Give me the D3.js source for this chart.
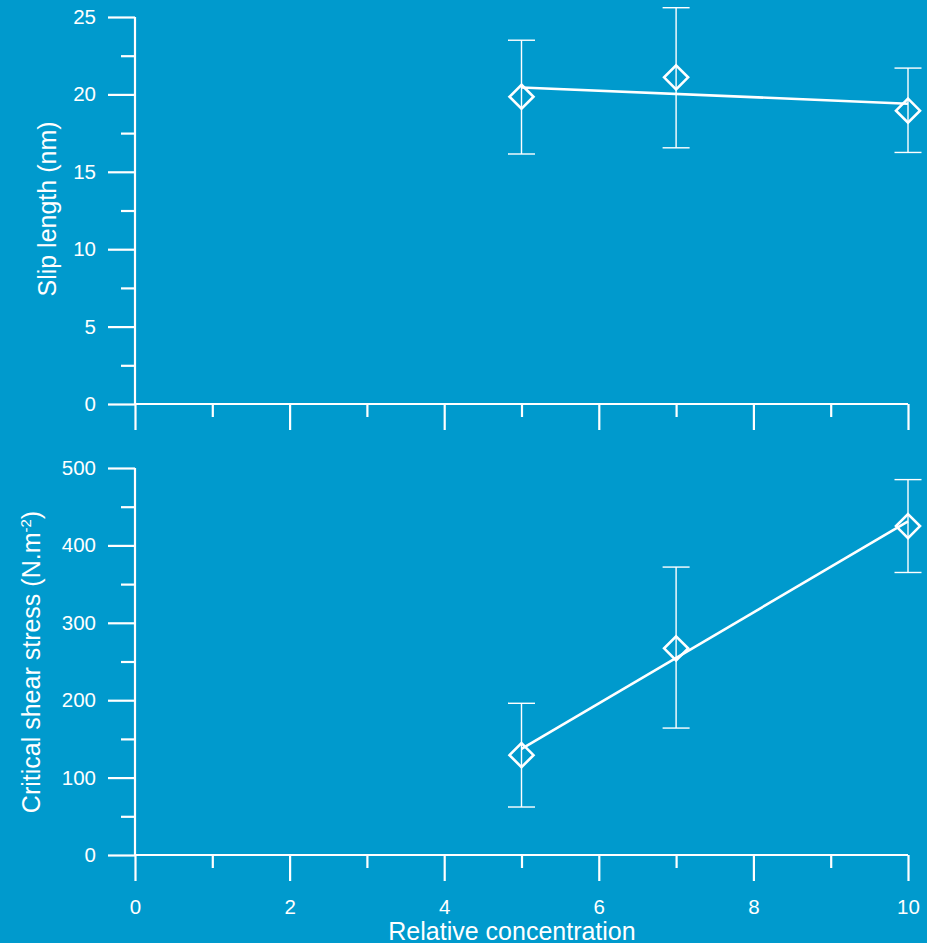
<!DOCTYPE html>
<html>
<head>
<meta charset="utf-8">
<script src="https://cdn.jsdelivr.net/npm/d3@7"></script>
<style>
  body { margin: 0; background: #009acd; }
  svg { display: block; font-family: "Liberation Sans", Arial, sans-serif; }
  .axis line, .axis path { stroke: #fff; }
</style>
</head>
<body>
<svg class="chart"></svg>
<script>
// data
var conc = [5, 7, 10];
var slipMean = [19.85, 21.1, 18.95];
var slipLow = [16.15, 16.55, 16.25];
var slipHigh = [23.5, 25.6, 21.7];
var slipFitX = [5, 10];
var slipFitY = [20.45, 19.4];

var shearMean = [129, 267, 425];
var shearLow = [62, 164, 365];
var shearHigh = [196, 372, 485];
var shearFitX = [5, 10];
var shearFitY = [137, 431];

var xMajor = [0, 2, 4, 6, 8, 10],
    xMinor = [1, 3, 5, 7, 9];
var slipMajor = [0, 5, 10, 15, 20, 25],
    slipMinor = [2.5, 7.5, 12.5, 17.5, 22.5];
var shearMajor = [0, 100, 200, 300, 400, 500],
    shearMinor = [50, 150, 250, 350, 450];

var width = 927, height = 943;
var chart = d3.select('.chart')
    .attr("width", width)
    .attr("height", height);

chart.append("rect").attr("width", width).attr("height", height).attr("fill", "#009acd");

var xScale = d3.scaleLinear().domain([0, 10]).range([135, 908]);

function styleAxis(a){
  a.select(".domain").remove();
  a.attr("font-size", 20.5).attr("font-family", "Liberation Sans, Arial, sans-serif");
  a.selectAll("text").attr("fill", "#fff");
  a.selectAll("line").attr("stroke", "#fff").attr("stroke-width", 2.2);
}

function drawPanel(opts){
  var y = d3.scaleLinear().domain(opts.domain).range(opts.range);
  var g = chart.append("g");

  // y axis: majors with labels, minors shorter
  g.append("g").attr("class", "axis")
      .attr("transform", "translate(" + xScale(0) + ",0)")
      .call(d3.axisLeft(y).tickValues(opts.major).tickSize(27).tickPadding(12).tickFormat(d3.format("d")))
      .call(styleAxis);
  g.append("g").attr("class", "axis")
      .attr("transform", "translate(" + xScale(0) + ",0)")
      .call(d3.axisLeft(y).tickValues(opts.minor).tickSize(14).tickFormat(""))
      .call(styleAxis);

  // x axis
  var xa = d3.axisBottom(xScale).tickValues(xMajor).tickSize(26).tickPadding(18);
  if (!opts.xLabels) xa.tickFormat("");
  g.append("g").attr("class", "axis")
      .attr("transform", "translate(0," + y(0) + ")")
      .call(xa)
      .call(styleAxis);
  g.append("g").attr("class", "axis")
      .attr("transform", "translate(0," + y(0) + ")")
      .call(d3.axisBottom(xScale).tickValues(xMinor).tickSize(13).tickFormat(""))
      .call(styleAxis);

  // axis lines
  g.append("line")
      .attr("x1", xScale(0)).attr("x2", xScale(0))
      .attr("y1", y(opts.domain[1])).attr("y2", y(0))
      .attr("stroke", "#fff").attr("stroke-width", 2.2);
  g.append("line")
      .attr("x1", xScale(0)).attr("x2", xScale(10))
      .attr("y1", y(0)).attr("y2", y(0))
      .attr("stroke", "#fff").attr("stroke-width", 2.2);

  // error bars
  conc.forEach(function(c, i){
    var cx = xScale(c);
    g.append("line").attr("x1", cx).attr("x2", cx)
        .attr("y1", y(opts.low[i])).attr("y2", y(opts.high[i]))
        .attr("stroke", "#fff").attr("stroke-width", 1.4);
    [opts.low[i], opts.high[i]].forEach(function(v){
      g.append("line").attr("x1", cx - 13.5).attr("x2", cx + 13.5)
          .attr("y1", y(v)).attr("y2", y(v))
          .attr("stroke", "#fff").attr("stroke-width", 1.4);
    });
  });

  // diamonds
  g.selectAll(".pt")
      .data(conc)
    .enter().append("path")
      .attr("class", "pt")
      .attr("d", "M0,-12L12,0L0,12L-12,0Z")
      .attr("transform", function(d, i){ return "translate(" + xScale(d) + "," + y(opts.mean[i]) + ")"; })
      .attr("fill", "none")
      .attr("stroke", "#fff")
      .attr("stroke-width", 2.6);

  // fit line
  var line = d3.line()
      .x(function(d){ return xScale(d[0]); })
      .y(function(d){ return y(d[1]); });
  g.append("path")
      .datum(opts.fitX.map(function(v, i){ return [v, opts.fitY[i]]; }))
      .attr("d", line)
      .attr("fill", "none")
      .attr("stroke", "#fff")
      .attr("stroke-width", 2.6);
}

drawPanel({domain: [0, 25], range: [404, 17], major: slipMajor, minor: slipMinor,
  mean: slipMean, low: slipLow, high: slipHigh, fitX: slipFitX, fitY: slipFitY, xLabels: false});
drawPanel({domain: [0, 500], range: [855, 468], major: shearMajor, minor: shearMinor,
  mean: shearMean, low: shearLow, high: shearHigh, fitX: shearFitX, fitY: shearFitY, xLabels: true});

// axis titles
chart.append("text")
    .attr("transform", "translate(56,209) rotate(-90)")
    .attr("text-anchor", "middle")
    .attr("fill", "#fff")
    .style("font-size", "25px")
    .text("Slip length (nm)");

var t2 = chart.append("text")
    .attr("transform", "translate(40,662) rotate(-90)")
    .attr("text-anchor", "middle")
    .attr("fill", "#fff")
    .style("font-size", "25px");
t2.append("tspan").text("Critical shear stress (N.m");
t2.append("tspan").attr("dy", -9).style("font-size", "15px").text("-2");
t2.append("tspan").attr("dy", 9).text(")");

chart.append("text")
    .attr("x", 512).attr("y", 940)
    .attr("text-anchor", "middle")
    .attr("fill", "#fff")
    .style("font-size", "25px")
    .text("Relative concentration");
</script>
</body>
</html>
